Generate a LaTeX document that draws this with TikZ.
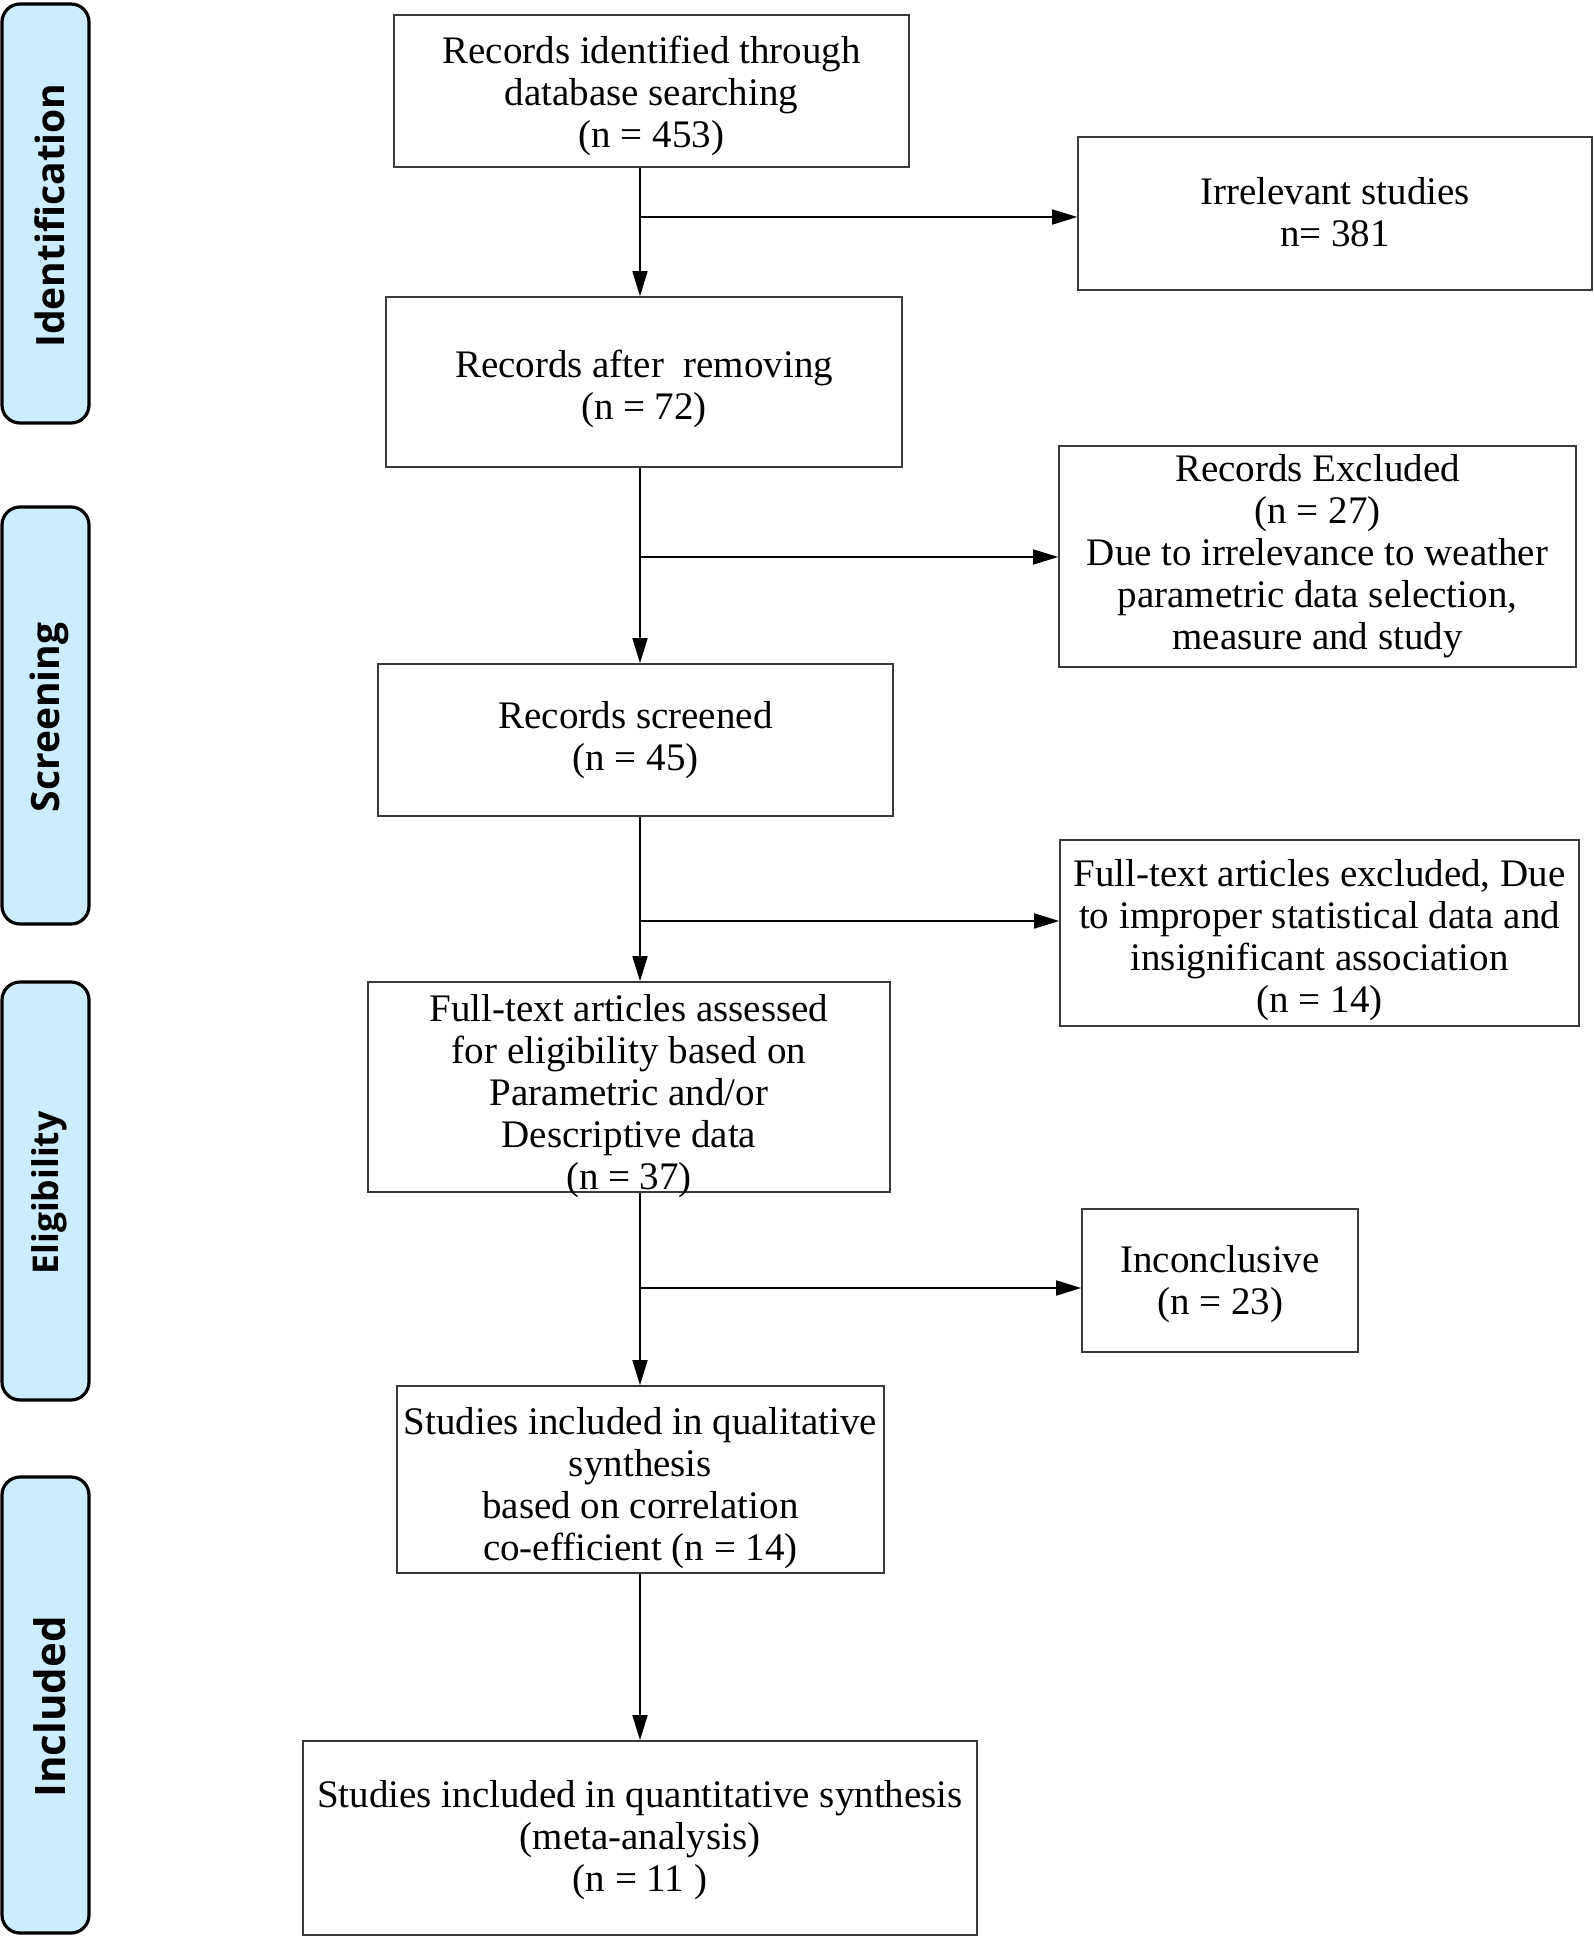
\documentclass[tikz,border=0pt]{standalone}
\usepackage{fontspec}
\usetikzlibrary{arrows.meta}
\setmainfont{Liberation Serif}
\newfontfamily\sidefontfam{Open Sans}
\definecolor{sidefill}{HTML}{CCECFF}
\definecolor{boxline}{HTML}{3A3A3A}
\tikzset{
  box/.style={draw=boxline, line width=1.6pt, inner sep=0pt},
  txt/.style={align=center, inner sep=0pt, font=\fontsize{39}{42}\selectfont},
  sidebar/.style={draw=black, line width=3.2pt, fill=sidefill, rounded corners=18pt, inner sep=0pt},
  sidelabel/.style={xshift=4pt, yshift=-2pt, rotate=90, inner sep=0pt},
  arr/.style={-{Triangle[length=25pt,width=15pt]}, line width=1.6pt, draw=black}
}
\begin{document}
\begin{tikzpicture}[x=1pt,y=-1pt]
\useasboundingbox (0,0) rectangle (1594,1937);
% sidebars
\node[sidebar, minimum width=87pt, minimum height=419pt] (s1) at (45.5,213.5) {};
\node[sidelabel, font=\sidefontfam\bfseries\fontsize{39}{40}\selectfont] (l1) at (s1) {Identification};
\node[sidebar, minimum width=87pt, minimum height=417pt] (s2) at (45.5,715.5) {};
\node[sidelabel, font=\sidefontfam\bfseries\fontsize{39}{40}\selectfont] (l2) at (s2) {Screening};
\node[sidebar, minimum width=87pt, minimum height=418pt] (s3) at (45.5,1191) {};
\node[sidelabel, font=\sidefontfam\bfseries\fontsize{35.5}{40}\selectfont] (l3) at (s3) {Eligibility};
\node[sidebar, minimum width=87pt, minimum height=456pt] (s4) at (45.5,1705) {};
\node[sidelabel, font=\sidefontfam\bfseries\fontsize{42}{42}\selectfont] (l4) at (s4) {Included};
% main boxes
\node[box, minimum width=515pt, minimum height=152pt] (b1) at (651.5,91) {};
\node[txt, yshift=-5pt] (t1) at (b1) {Records identified through\\database searching\\(n = 453)};
\node[box, minimum width=516pt, minimum height=170pt] (b2) at (644,382) {};
\node[txt, yshift=-7pt] (t2) at (b2) {Records after\ \ removing\\(n = 72)};
\node[box, minimum width=515pt, minimum height=152pt] (b3) at (635.5,740) {};
\node[txt] (t3) at (b3) {Records screened\\(n = 45)};
\node[box, minimum width=522pt, minimum height=210pt] (b4) at (629,1087) {};
\node[txt, yshift=-9pt] (t4) at (b4) {Full-text articles assessed\\for eligibility based on\\Parametric and/or\\Descriptive data\\(n = 37)};
\node[box, minimum width=487pt, minimum height=187pt] (b5) at (640.5,1479.5) {};
\node[txt, yshift=-9pt] (t5) at (b5) {Studies included in qualitative\\synthesis\\based on correlation\\co-efficient (n = 14)};
\node[box, minimum width=674pt, minimum height=194pt] (b6) at (640,1838) {};
\node[txt, yshift=-2pt] (t6) at (b6) {Studies included in quantitative synthesis\\(meta-analysis)\\(n = 11 )};
% side boxes
\node[box, minimum width=514pt, minimum height=153pt] (r1) at (1335,213.5) {};
\node[txt, yshift=1pt] (u1) at (r1) {Irrelevant studies\\n= 381};
\node[box, minimum width=517pt, minimum height=221pt] (r2) at (1317.5,556.5) {};
\node[txt] (u2) at (r2) {Records Excluded\\(n = 27)\\Due to irrelevance to weather\\parametric data selection,\\measure and study};
\node[box, minimum width=519pt, minimum height=186pt] (r3) at (1319.5,933) {};
\node[txt, yshift=-7pt] (u3) at (r3) {Full-text articles excluded, Due\\to improper statistical data and\\insignificant association\\(n = 14)};
\node[box, minimum width=276pt, minimum height=143pt] (r4) at (1220,1280.5) {};
\node[txt, yshift=-4pt] (u4) at (r4) {Inconclusive\\(n = 23)};
% connectors
\coordinate (ax) at (640,0);
\coordinate (j1) at (640,217);
\coordinate (j2) at (640,557);
\coordinate (j3) at (640,921);
\coordinate (j4) at (640,1288);
\draw[arr] (b1.south -| ax) -- (b2.north -| ax);
\draw[arr] (b2.south -| ax) -- (b3.north -| ax);
\draw[arr] (b3.south -| ax) -- (b4.north -| ax);
\draw[arr] (b4.south -| ax) -- (b5.north -| ax);
\draw[arr] (b5.south -| ax) -- (b6.north -| ax);
\draw[arr] (j1) -- (j1 -| r1.west);
\draw[arr] (j2) -- (j2 -| r2.west);
\draw[arr] (j3) -- (j3 -| r3.west);
\draw[arr] (j4) -- (j4 -| r4.west);
\end{tikzpicture}
\end{document}
